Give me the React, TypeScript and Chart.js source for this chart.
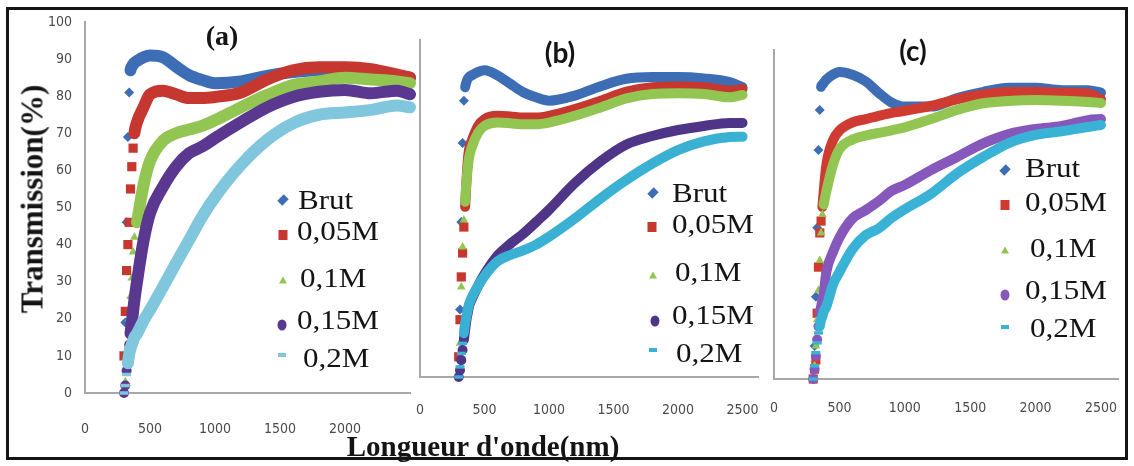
import React, { useEffect, useRef } from 'react';
import { Chart, registerables } from 'chart.js';

Chart.register(...registerables);

// ---------- DATA ----------
const WAVELENGTHS = [300, 310, 320, 330, 340, 350, 360, 370, 380, 400, 450, 500, 600, 700, 800, 900, 1000, 1200, 1400, 1600, 1800, 2000, 2200, 2400, 2500];
const SERIES_LABELS = ['Brut', '0,05M', '0,1M', '0,15M', '0,2M'];
const X_TICKS_A = [0, 500, 1000, 1500, 2000];
const X_TICKS_BC = [0, 500, 1000, 1500, 2000, 2500];
const Y_TICKS = [0, 10, 20, 30, 40, 50, 60, 70, 80, 90, 100];

// (a)
const A_BRUT = [0, 19, 46, 69, 81, 87, 88, 88.5, 89, 89.5, 90.5, 91, 90.5, 88, 85.7, 84.4, 83.5, 84, 85.5, 86.5, 87, 87, 86.5, 85.5, 85];
const A_005 = [10, 22, 33, 40, 46, 55, 61, 66, 70, 73, 77, 80.5, 81.5, 80.5, 79.5, 79.5, 79.8, 81, 84.5, 87, 87.8, 87.8, 87.3, 85.8, 85];
const A_01 = [0, 3, 8, 12.5, 20, 26, 31, 38, 42, 46, 56, 62.5, 68, 70, 71, 72, 73.5, 77, 80.3, 83, 84, 85, 84.5, 84, 83.5];
const A_015 = [0, 2, 6, 10, 13, 16, 19, 22, 25, 30, 41, 48.5, 55.6, 61, 64.6, 66.4, 68.7, 73, 77, 79.8, 81.2, 81.7, 80.8, 81.5, 80.5];
const A_02 = [0, 2, 5, 8, 10.5, 12, 13, 14, 15, 16, 19.5, 22.4, 28.6, 35, 41.2, 47.5, 52.8, 61.5, 68.2, 72.7, 75, 75.6, 76.3, 77.5, 77];
const A_BAND_FROM = [350, 380, 400, 350, 330];

// (b)
const B_BRUT = [0, 20, 46, 69.4, 82, 86, 87.5, 88.5, 89, 89.5, 90.5, 91, 89.5, 87, 84.5, 83, 82, 83.5, 86.3, 88.5, 89, 89, 88.6, 87.5, 86];
const B_005 = [6, 17, 29.7, 36.8, 44.5, 50.5, 58, 64, 67.5, 70, 74.5, 76.5, 77.5, 77.3, 77, 77, 77.5, 79.5, 82, 84.7, 86, 86.2, 86, 85, 85.5];
const B_01 = [0, 10, 26.7, 38.6, 46.6, 52, 58, 62, 65, 68, 72.5, 74.5, 75.5, 75.3, 75, 75, 75.5, 77.5, 80, 82.7, 84, 84.2, 84, 83, 83.7];
const B_015 = [0, 2, 5, 8, 11, 14, 17, 19, 21, 23, 27, 30.5, 36, 39.5, 42.5, 46, 49.6, 57.5, 64, 69, 71.5, 73.3, 74.5, 75.4, 75.4];
const B_02 = [0, 3, 7, 10, 13, 16, 18, 20, 21.5, 23.5, 27, 30, 34.3, 36.2, 37.6, 39.3, 41.6, 47, 53, 58.5, 63.3, 67.3, 69.9, 71.2, 71.3];
const B_BAND_FROM = [350, 350, 350, 340, 340];

// (c)
const C_BRUT = [0, 10, 25, 46, 69.6, 81.8, 88.8, 89.5, 90, 91, 92.5, 93.3, 92.5, 90.5, 87, 84, 82.8, 82.8, 85.4, 87.3, 88.5, 88.5, 87.8, 87.8, 87];
const C_005 = [0, 3, 5.8, 20, 34, 44.4, 48, 52.3, 57, 65, 72.5, 75.5, 78, 79, 80, 80.9, 81.5, 83, 85, 86.5, 87.2, 87.3, 87, 86.8, 85];
const C_01 = [0, 4, 10, 18, 27, 36, 44.4, 50, 53, 57, 65, 69.8, 72.8, 74, 74.8, 75.6, 76.5, 79, 81.8, 83.8, 84.5, 84.8, 84.6, 84.2, 83.9];
const C_015 = [0, 3, 7, 12, 16, 20, 22, 24, 26, 32.5, 38.5, 43, 48.8, 51.3, 54, 57.2, 59, 63.5, 67.5, 71.6, 74.5, 76, 76.9, 78.7, 79];
const C_02 = [0, 4, 8, 11, 14, 16, 18, 19, 20.5, 22, 28.6, 32.5, 39.5, 43.7, 45.8, 49, 51.6, 56.3, 62.5, 67.5, 71.8, 74.2, 75.3, 76.6, 77.2];
const C_BAND_FROM = [360, 370, 380, 350, 350];

// ---------- STYLE ----------
const POINT_STYLES = ['rectRot', 'rect', 'triangle', 'circle', 'line'];
const POINT_RADII = [5, 6.5, 5, 5, 4.5];
const SERIF = '"Liberation Serif", "Times New Roman", serif';
const TICK_FONT = '"Liberation Sans Narrow", "DejaVu Sans Condensed", "Liberation Sans", sans-serif';

type PanelSpec = {
  id: string;
  series: number[][];
  bandFrom: number[];
  colors: string[];
  bandWidth: number;
  xMax: number;
  xTicks: number[];
  showY: boolean;
  canvas: { left: number; top: number; width: number; height: number };
  plot: { left: number; right: number; top: number; bottom: number };
  xTickPad: number;
};

const PANELS: PanelSpec[] = [
  {
    id: 'a',
    series: [A_BRUT, A_005, A_01, A_015, A_02],
    bandFrom: A_BAND_FROM,
    colors: ['#3D6DB4', '#C5372F', '#93C552', '#5A3890', '#80C6DD'],
    bandWidth: 12,
    xMax: 2500,
    xTicks: X_TICKS_A,
    showY: true,
    canvas: { left: 10, top: 12, width: 408, height: 438 },
    plot: { left: 85, right: 417, top: 22, bottom: 393 },
    xTickPad: 28,
  },
  {
    id: 'b',
    series: [B_BRUT, B_005, B_01, B_015, B_02],
    bandFrom: B_BAND_FROM,
    colors: ['#3D6DB4', '#C5372F', '#93C552', '#4F3588', '#3AB1D2'],
    bandWidth: 10,
    xMax: 2620,
    xTicks: X_TICKS_BC,
    showY: false,
    canvas: { left: 412, top: 12, width: 354, height: 438 },
    plot: { left: 420, right: 763, top: 40, bottom: 377 },
    xTickPad: 25,
  },
  {
    id: 'c',
    series: [C_BRUT, C_005, C_01, C_015, C_02],
    bandFrom: C_BAND_FROM,
    colors: ['#3D6DB4', '#D03B31', '#93C552', '#8658BB', '#3AB2D6'],
    bandWidth: 10,
    xMax: 2630,
    xTicks: X_TICKS_BC,
    showY: false,
    canvas: { left: 766, top: 12, width: 360, height: 438 },
    plot: { left: 772, right: 1125, top: 50, bottom: 379 },
    xTickPad: 21,
  },
];

const LEGENDS: Record<string, { tx: number; ty: number; mx: number; my: number }[]> = {
  a: [
    { tx: 298, ty: 200, mx: 283, my: 200 },
    { tx: 297, ty: 231, mx: 283, my: 235 },
    { tx: 300, ty: 278, mx: 283, my: 280 },
    { tx: 297, ty: 320, mx: 282, my: 325 },
    { tx: 303, ty: 358, mx: 282, my: 355 },
  ],
  b: [
    { tx: 672, ty: 193, mx: 653, my: 193 },
    { tx: 672, ty: 224, mx: 652, my: 227 },
    { tx: 675, ty: 272, mx: 653, my: 275 },
    { tx: 672, ty: 315, mx: 655, my: 321 },
    { tx: 676, ty: 353, mx: 653, my: 350 },
  ],
  c: [
    { tx: 1025, ty: 168, mx: 1005, my: 170 },
    { tx: 1025, ty: 202, mx: 1005, my: 205 },
    { tx: 1030, ty: 248, mx: 1005, my: 250 },
    { tx: 1025, ty: 290, mx: 1005, my: 295 },
    { tx: 1030, ty: 328, mx: 1005, my: 327 },
  ],
};

function buildDatasets(p: PanelSpec) {
  return p.series.map((vals, i) => {
    const color = p.colors[i];
    const from = p.bandFrom[i];
    return {
      label: SERIES_LABELS[i],
      data: WAVELENGTHS.map((x, j) => ({ x, y: vals[j] })),
      showLine: true,
      borderColor: color,
      backgroundColor: color,
      borderWidth: p.bandWidth,
      borderCapStyle: 'round',
      borderJoinStyle: 'round',
      cubicInterpolationMode: 'monotone',
      segment: {
        borderColor: (ctx: any) => (ctx.p0.parsed.x < from ? 'rgba(0,0,0,0)' : color),
      },
      pointStyle: POINT_STYLES[i],
      pointRadius: (ctx: any) => (ctx.parsed && ctx.parsed.x < from ? POINT_RADII[i] : 0),
      pointHoverRadius: 0,
      pointBackgroundColor: color,
      pointBorderColor: color,
      pointBorderWidth: i === 4 ? 3.5 : 0,
      clip: false,
      order: 5 - i,
    };
  });
}

function PanelChart({ spec }: { spec: PanelSpec }) {
  const ref = useRef<HTMLCanvasElement | null>(null);
  useEffect(() => {
    if (!ref.current) return;
    const c = spec.canvas;
    const pl = spec.plot;
    const yWidth = pl.left - c.left;
    const xHeight = c.top + c.height - pl.bottom;
    const zeroPad = (s: any) => {
      s.paddingLeft = 0;
      s.paddingRight = 0;
      s.paddingTop = 0;
      s.paddingBottom = 0;
    };
    const chart = new Chart(ref.current, {
      type: 'scatter',
      data: { datasets: buildDatasets(spec) as any },
      options: {
        responsive: false,
        animation: false,
        events: [],
        layout: { padding: { left: 0, top: pl.top - c.top, right: c.left + c.width - pl.right, bottom: 0 } },
        plugins: { legend: { display: false }, tooltip: { enabled: false }, title: { display: false } },
        scales: {
          x: {
            type: 'linear',
            min: 0,
            max: spec.xMax,
            grid: { display: false, drawTicks: false, tickLength: 0 },
            border: { display: true, color: '#a8a8a8', width: 2 },
            ticks: {
              padding: spec.xTickPad,
              autoSkip: false,
              maxRotation: 0,
              color: '#4a4a4a',
              font: { family: TICK_FONT, size: 14 },
              callback: (v: any) => String(v),
            },
            afterBuildTicks: (s: any) => {
              s.ticks = spec.xTicks.map((v) => ({ value: v }));
            },
            afterFit: (s: any) => {
              s.height = xHeight;
              zeroPad(s);
            },
          },
          y: {
            type: 'linear',
            min: 0,
            max: 100,
            grid: { display: false, drawTicks: false, tickLength: 0 },
            border: { display: true, color: '#a8a8a8', width: 2 },
            ticks: {
              display: spec.showY,
              padding: 13,
              color: '#4a4a4a',
              font: { family: TICK_FONT, size: 14 },
              callback: (v: any) => String(v),
            },
            afterBuildTicks: (s: any) => {
              s.ticks = Y_TICKS.map((v) => ({ value: v }));
            },
            afterFit: (s: any) => {
              s.width = yWidth;
              zeroPad(s);
            },
          },
        },
      } as any,
    });
    return () => chart.destroy();
  }, [spec]);
  const c = spec.canvas;
  return (
    <canvas
      ref={ref}
      width={c.width}
      height={c.height}
      style={{ position: 'absolute', left: c.left, top: c.top, width: c.width, height: c.height }}
    />
  );
}

function Marker({ kind, color, x, y }: { kind: number; color: string; x: number; y: number }) {
  const base: React.CSSProperties = { position: 'absolute', left: x, top: y, transform: 'translate(-50%, -50%)' };
  if (kind === 0)
    return <div style={{ ...base, width: 7, height: 7, background: color, transform: 'translate(-50%, -50%) rotate(45deg) scaleY(1.3)' }} />;
  if (kind === 1) return <div style={{ ...base, width: 9, height: 10, background: color }} />;
  if (kind === 2)
    return (
      <div
        style={{
          ...base,
          width: 0,
          height: 0,
          borderLeft: '4px solid transparent',
          borderRight: '4px solid transparent',
          borderBottom: `7px solid ${color}`,
        }}
      />
    );
  if (kind === 3) return <div style={{ ...base, width: 9, height: 11, borderRadius: '50%', background: color }} />;
  return <div style={{ ...base, width: 8, height: 4, background: color }} />;
}

function Legend({ spec }: { spec: PanelSpec }) {
  const entries = LEGENDS[spec.id];
  return (
    <>
      {entries.map((e, i) => (
        <React.Fragment key={i}>
          <Marker kind={i} color={spec.colors[i]} x={e.mx} y={e.my} />
          <div
            style={{
              position: 'absolute',
              left: e.tx,
              top: e.ty,
              transform: 'translateY(-50%) scaleX(1.15)',
              transformOrigin: 'left center',
              fontFamily: SERIF,
              fontSize: 27,
              lineHeight: 1,
              color: '#141414',
              whiteSpace: 'nowrap',
            }}
          >
            {SERIES_LABELS[i]}
          </div>
        </React.Fragment>
      ))}
    </>
  );
}

const centered = (x: number, y: number, extra: React.CSSProperties = {}): React.CSSProperties => ({
  position: 'absolute',
  left: x,
  top: y,
  transform: 'translate(-50%, -50%)',
  whiteSpace: 'nowrap',
  lineHeight: 1,
  color: '#141414',
  ...extra,
});

export default function App() {
  return (
    <div style={{ position: 'absolute', left: 0, top: 0, width: 1134, height: 466, background: '#fff', overflow: 'hidden' }}>
      {PANELS.map((p) => (
        <PanelChart key={p.id} spec={p} />
      ))}
      {PANELS.map((p) => (
        <Legend key={'l' + p.id} spec={p} />
      ))}
      <div style={centered(222, 36, { fontFamily: SERIF, fontWeight: 'bold', fontSize: 28 })}>(a)</div>
      <div style={centered(560, 52, { fontFamily: 'Lato, "Open Sans", sans-serif', fontWeight: 'bold', fontSize: 28 })}>(b)</div>
      <div style={centered(913, 50, { fontFamily: 'Lato, "Open Sans", sans-serif', fontWeight: 'bold', fontSize: 28 })}>(c)</div>
      <div
        style={{
          ...centered(32, 199, { fontFamily: SERIF, fontWeight: 'bold', fontSize: 31 }),
          transform: 'translate(-50%, -50%) rotate(-90deg)',
        }}
      >
        Transmission(%)
      </div>
      <div style={centered(483, 446, { fontFamily: SERIF, fontWeight: 'bold', fontSize: 29 })}>Longueur d'onde(nm)</div>
      <div
        style={{
          position: 'absolute',
          left: 6,
          top: 7,
          width: 1122,
          height: 453,
          border: '3px solid #151515',
          boxSizing: 'border-box',
        }}
      />
    </div>
  );
}
